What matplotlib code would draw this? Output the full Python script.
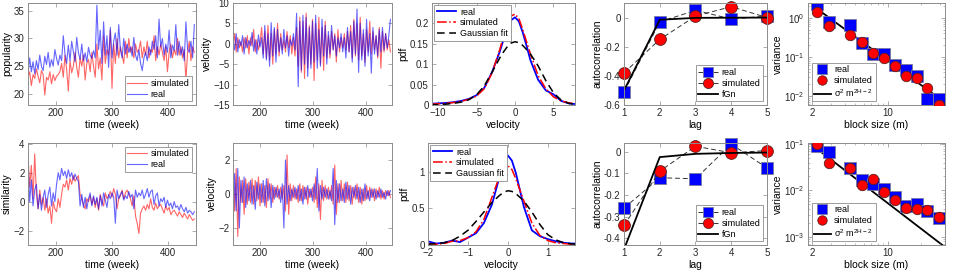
import numpy as np
import matplotlib
matplotlib.use('Agg')
import matplotlib.pyplot as plt

plt.rcParams['font.family'] = ['Liberation Sans', 'DejaVu Sans']
plt.rcParams['font.size'] = 7
plt.rcParams['mathtext.fontset'] = 'custom'
plt.rcParams['mathtext.rm'] = 'Liberation Sans'
plt.rcParams['mathtext.it'] = 'Liberation Sans:italic'
plt.rcParams['mathtext.default'] = 'regular'

# ---------------- data ----------------
weeks = np.linspace(150, 447, 100)

pop_real = [23.5, 26.5, 24.0, 25.8, 23.6, 26.0, 24.4, 27.0, 25.0, 24.2,
            26.8, 25.3, 27.5, 24.8, 26.2, 25.0, 28.0, 26.4, 25.2, 27.0,
            26.0, 30.5, 27.2, 25.5, 28.8, 26.0, 29.5, 27.6, 25.8, 30.2,
            27.5, 26.2, 29.0, 26.0, 27.4, 25.8, 28.4, 27.0, 26.4, 27.8,
            26.5, 36.0, 28.0, 31.5, 25.5, 33.0, 27.0, 30.5, 24.8, 32.0,
            26.5, 29.5, 31.0, 27.0, 32.5, 28.0, 26.5, 30.0, 27.2, 29.0,
            27.5, 28.5, 26.8, 30.2, 27.0, 26.0, 28.0, 25.5, 24.2, 26.5,
            27.5, 26.0, 28.5, 27.0, 29.5, 28.0, 30.5, 26.5, 33.5, 28.5,
            30.0, 27.0, 29.0, 27.5, 31.5, 26.5, 28.8, 27.8, 32.5, 27.0,
            29.5, 27.0, 28.5, 26.0, 33.0, 28.0, 27.5, 29.5, 26.5, 32.5]
pop_sim = [23.0, 24.0, 21.5, 23.5, 22.8, 24.5, 23.2, 22.0, 24.2, 23.5,
           19.8, 23.0, 22.5, 24.0, 21.8, 23.5, 22.4, 23.2, 23.5, 24.0,
           25.5, 23.0, 27.0, 24.5, 20.5, 26.0, 23.8, 25.0, 27.5, 24.8,
           23.0, 26.5, 25.0, 27.0, 22.5, 25.5, 26.2, 24.0, 27.5, 25.0,
           23.0, 29.0, 24.5, 26.5, 22.5, 30.5, 25.5, 28.0, 27.0, 31.5,
           21.0, 29.0, 25.5, 30.0, 26.5, 28.5, 27.0, 25.5, 29.5, 26.5,
           30.0, 27.5, 28.5, 26.5, 29.0, 27.5, 28.0, 29.5, 26.5, 28.5,
           27.0, 29.5, 26.5, 28.0, 27.5, 30.5, 26.0, 28.5, 27.0, 29.0,
           27.5, 26.0, 28.5, 24.0, 27.5, 29.0, 26.5, 28.0, 27.0, 30.0,
           27.0, 28.5, 26.5, 28.0, 22.5, 27.5, 29.5, 26.0, 28.5, 27.5]

vel_real = [0.5, -1.5, 2.5, -2.0, 1.0, -0.5, 2.0, -2.5, 1.5, -1.0,
            0.8, -0.5, 2.8, -1.8, 1.0, -2.5, 2.2, -0.8, 1.5, -3.5,
            4.5, -4.0, 2.5, -5.5, 5.2, -3.0, 4.0, -4.5, 3.5, -2.0,
            1.5, -2.5, 3.5, -1.0, 2.0, -3.0, 1.0, -0.5, 2.5, -1.5,
            7.5, -10.5, 5.5, -6.5, 7.0, -5.0, 6.5, -8.0, 4.0, -6.0,
            5.5, -4.5, 7.0, -6.0, 3.5, -5.5, 6.0, -3.0, 4.5, -5.0,
            3.0, -2.5, 4.5, -1.5, 2.0, -3.0, 1.5, -1.0, 2.5, -2.0,
            1.5, -3.5, 4.0, -2.0, 3.0, -4.5, 5.5, -2.5, 8.5, -7.0,
            5.0, -4.0, 3.5, -5.5, 6.0, -3.0, 2.5, -7.2, 4.0, -2.5,
            2.0, -3.0, 3.5, -2.0, 4.0, -1.5, 2.5, -1.0, 2.0, 6.0]
vel_sim = [-0.5, 2.5, -2.0, 1.5, -1.0, 0.5, -2.0, 1.5, -1.0, 2.0,
           -2.5, 1.5, -0.5, 3.5, -2.0, 1.0, -1.5, 0.5, 4.0, -2.5,
           3.0, -3.5, 4.5, -4.0, 2.5, -5.0, 3.5, -2.5, 5.0, -3.0,
           2.5, -1.5, 1.0, -2.0, 3.0, -1.0, 2.0, -2.5, 1.5, -3.0,
           4.0, -5.5, 6.5, -7.0, 5.5, -8.5, 7.5, -6.0, 4.5, -5.0,
           6.0, -9.0, 5.0, -4.0, 6.5, -5.0, 4.0, -6.5, 5.5, -3.5,
           2.0, -3.5, 3.0, -1.5, 2.5, -4.5, 3.5, -2.0, 1.5, -1.0,
           2.5, -1.5, 3.0, -2.0, 4.5, -3.5, 6.0, -3.0, 5.0, -4.0,
           6.5, -3.0, 2.5, -4.5, 3.5, -2.0, 5.5, -2.5, 3.0, -1.5,
           2.0, -3.5, 4.0, -6.0, 3.0, -2.0, 2.5, -1.5, 1.0, -2.0]

simi_real = [3.0, 0.0, 1.5, -0.3, 0.8, 1.2, -0.5, 0.5, -0.6, 0.3,
             0.8, -0.4, 0.5, 1.0, -0.3, 0.6, 0.0, 1.2, 2.0, 1.5,
             2.3, 1.8, 2.1, 1.6, 2.2, 1.7, 2.0, 1.5, 1.9, 1.6,
             1.4, -0.3, 0.5, -0.4, 0.3, -0.5, 0.2, 0.6, -0.3, 0.4,
             -0.2, 0.3, -0.5, 0.4, -0.3, 0.6, 0.1, -0.4, 0.5, 0.2,
             0.6, 0.3, -1.5, 0.8, 0.2, 0.5, 0.7, 0.1, 0.4, 0.2,
             0.7, 0.3, 0.5, -0.5, 0.8, 0.3, 0.6, 0.4, 0.8, 0.2,
             0.5, 0.9, 0.3, 0.7, 0.8, -0.2, 0.4, 0.6, -0.3, 0.2,
             0.0, 0.3, -0.4, 0.1, -0.3, -0.1, -0.5, 0.0, -0.4, -0.3,
             -0.6, -0.2, -0.5, -0.7, -0.4, -0.8, -0.6, -0.7, -0.9, -0.7]
simi_sim = [3.2, 1.0, 2.5, 0.2, 3.3, 0.5, -0.5, 0.8, -0.2, 0.3,
            -0.6, 0.2, -0.8, -0.3, -1.5, 0.0, -0.5, -0.7, 0.2, -0.4,
            0.5, 1.2, 1.0, 1.5, 0.8, 1.6, 1.2, 1.8, 1.4, 1.6,
            1.8, 0.5, 0.2, -0.2, -0.5, 0.2, 0.0, 0.4, -0.2, 0.3,
            -0.4, 0.2, -0.6, 0.5, 0.0, -0.3, 0.6, 0.2, 0.4, 0.7,
            0.3, 0.9, 0.5, -0.5, 0.2, 0.4, 0.8, 0.2, 0.6, 0.8,
            0.5, 0.2, -0.3, 0.4, -1.0, -1.5, -2.2, -0.8, -0.5, -0.3,
            -0.6, -0.2, -0.5, 0.2, -0.4, -0.6, -0.1, -0.5, -0.3, -0.2,
            -0.5, -0.8, -0.3, -0.6, -0.4, -0.9, -0.7, -0.6, -0.8, -1.0,
            -0.7, -0.9, -1.1, -0.8, -1.0, -1.2, -0.9, -1.1, -1.3, -1.2]

vel2_real = [-2.0, 1.2, -1.0, 1.5, -2.0, 0.8, -0.5, 1.0, -0.8, 0.6,
             -0.4, 0.8, -0.6, 0.5, -0.9, 0.7, -0.3, 0.6, -0.5, 0.8,
             -0.7, 0.9, -0.4, 0.6, -0.8, 0.5, -0.3, 0.4, -0.2, 0.3,
             -0.5, 0.6, -2.0, 2.0, -0.6, 0.5, -0.4, 0.3, -0.2, 0.4,
             -0.3, 0.5, -0.4, 0.3, -0.6, 0.4, -0.3, 0.5, -0.2, 0.3,
             -0.4, 0.6, -0.3, 1.5, -1.0, 0.5, -0.3, 0.4, -0.2, 0.3,
             -0.3, 0.2, -0.4, 1.5, -1.8, 0.8, -0.5, 0.6, -0.4, 0.3,
             -0.5, 0.7, -0.3, 0.5, -0.6, 0.4, -0.2, 0.5, -0.3, 0.4,
             -0.5, 0.3, -0.4, 0.6, -0.3, 0.2, -0.4, 0.3, -0.2, 0.3,
             -0.3, 0.2, -0.2, 0.3, -0.2, 0.1, -0.3, 0.2, -0.1, 0.2]
vel2_sim = [1.2, -1.0, 1.5, -2.5, 1.0, -0.5, 0.8, -1.2, 0.9, -0.6,
            0.7, -0.5, 0.9, -0.6, 0.8, -0.4, 1.0, -0.7, 0.6, -0.5,
            0.5, -0.8, 0.9, -0.3, 0.6, -0.5, 0.4, -0.2, 0.5, -0.3,
            0.4, -0.3, 0.5, -1.0, 2.3, -1.2, 0.6, -0.4, 0.5, -0.3,
            0.3, -0.5, 0.6, -0.4, 0.5, -0.3, 0.4, -0.6, 0.3, -0.2,
            0.4, -0.5, 1.0, -0.8, 0.6, -1.5, 0.8, -0.4, 0.5, -0.3,
            0.4, -0.3, 0.5, -0.6, 1.7, -1.2, 0.6, -0.5, 0.8, -0.4,
            0.6, -0.5, 0.7, -0.4, 0.5, -0.6, 0.4, -0.3, 0.6, -0.5,
            0.4, -0.6, 0.3, -0.4, 0.5, -0.3, 0.4, -0.2, 0.3, -0.4,
            0.3, -0.2, 0.4, -0.3, 0.2, -0.3, 0.2, -0.1, 0.2, -0.2]

# velocity pdfs (top: popularity, bottom: similarity)
pdf1_x = [-11, -10, -9, -8, -7, -6, -5, -4, -3, -2, -1.5, -1, -0.5, 0, 0.5, 1, 1.5, 2, 3, 4, 5, 6, 7, 8]
pdf1_real = [0.003, 0.004, 0.005, 0.007, 0.010, 0.015, 0.024, 0.042, 0.080, 0.130, 0.160, 0.188, 0.208, 0.215,
             0.205, 0.178, 0.145, 0.110, 0.062, 0.036, 0.026, 0.010, 0.004, 0.002]
pdf1_sim = [0.002, 0.003, 0.004, 0.006, 0.009, 0.014, 0.022, 0.040, 0.078, 0.135, 0.168, 0.196, 0.218, 0.223,
            0.212, 0.185, 0.155, 0.125, 0.072, 0.040, 0.020, 0.010, 0.005, 0.003]
pdf1_gauss = [0.000, 0.001, 0.002, 0.004, 0.007, 0.013, 0.025, 0.047, 0.080, 0.115, 0.130, 0.143, 0.152, 0.155,
              0.153, 0.146, 0.136, 0.125, 0.096, 0.060, 0.030, 0.012, 0.004, 0.001]

pdf2_x = [-2.0, -1.8, -1.6, -1.4, -1.2, -1.0, -0.8, -0.6, -0.4, -0.2, -0.1, 0.0, 0.1, 0.2, 0.4, 0.6, 0.8, 1.0, 1.2, 1.4, 1.6, 1.7]
pdf2_real = [0.05, 0.02, 0.03, 0.06, 0.04, 0.10, 0.16, 0.30, 0.55, 0.95, 1.12, 1.22, 1.15, 0.98, 0.52, 0.20,
             0.12, 0.08, 0.05, 0.03, 0.02, 0.02]
pdf2_sim = [0.02, 0.01, 0.02, 0.05, 0.06, 0.10, 0.18, 0.35, 0.65, 0.95, 1.04, 1.08, 1.03, 0.90, 0.60, 0.30,
            0.13, 0.06, 0.03, 0.02, 0.01, 0.01]
pdf2_gauss = [0.01, 0.02, 0.03, 0.06, 0.12, 0.20, 0.32, 0.45, 0.58, 0.68, 0.72, 0.74, 0.73, 0.70, 0.60, 0.45,
              0.28, 0.14, 0.07, 0.03, 0.015, 0.01]

lags = [1, 2, 3, 4, 5]
acf1_real = [-0.51, -0.03, 0.05, -0.01, 0.01]
acf1_sim = [-0.38, -0.15, 0.01, 0.075, 0.0]
acf1_fgn = [-0.50, -0.015, -0.002, -0.001, 0.0]
acf2_real = [-0.26, -0.12, -0.125, 0.035, -0.075]
acf2_sim = [-0.34, -0.09, 0.025, -0.005, 0.005]
acf2_fgn = [-0.45, -0.025, -0.01, -0.006, -0.004]

block = [2.2, 2.85, 4.45, 5.7, 7.25, 9.15, 11.5, 14.6, 18.4, 23.0, 29.8]
var1_real = [2.3, 0.78, 0.65, 0.22, 0.115, 0.12, 0.062, 0.045, 0.033, 0.0085, 0.0085]
var1_sim = [1.45, 0.62, 0.36, 0.24, 0.125, 0.092, 0.057, 0.033, 0.028, 0.016, 0.0058]
var2_real = [0.092, 0.069, 0.030, 0.0170, 0.0138, 0.0108, 0.0073, 0.0045, 0.0051, 0.0036, 0.0025]
var2_sim = [0.103, 0.040, 0.030, 0.0133, 0.018, 0.0092, 0.0062, 0.0042, 0.0039, 0.0038, 0.0026]
fit_m = [2.0, 34.0]
fit1_v = [2.1, 0.0065]
fit2_v = [0.095, 0.00058]

# ---------------- figure ----------------
W, H = 954, 277
fig = plt.figure(figsize=(W / 100, H / 100), dpi=100)
LAB = 7.5


def box(l, t, r, b):
    return [l / W, 1 - b / H, (r - l) / W, (b - t) / H]


def style(ax):
    for s in ax.spines.values():
        s.set_color('#8c8c8c')
        s.set_linewidth(0.7)
    ax.tick_params(direction='in', top=True, right=True, length=3, width=0.5,
                   color='#8c8c8c', labelcolor='#262626', labelsize=7, pad=2.5)
    ax.tick_params(which='minor', direction='in', top=True, right=True, length=1.5, width=0.4,
                   color='#8c8c8c')


def leg(ax, loc, **kw):
    opts = dict(fontsize=6.5, fancybox=False, framealpha=1, handlelength=2.2,
                handletextpad=0.4, borderpad=0.3, labelspacing=0.2, borderaxespad=0.4)
    opts.update(kw)
    lg = ax.legend(loc=loc, **opts)
    lg.get_frame().set_edgecolor('#8c8c8c')
    lg.get_frame().set_linewidth(0.6)
    return lg


rows = [(3, 105), (143, 245)]
col1 = (28, 196)
col2 = (233, 392)
col3 = [(432, 575), (428, 575)]
col4 = (624, 767)
col5 = (808, 945)

ts_pop = [(pop_real, pop_sim, 'popularity', (18, 36.4), [20, 25, 30, 35], 'lower right'),
          (simi_real, simi_sim, 'similarity', (-3, 4.05), [-2, 0, 2, 4], 'upper right')]
ts_vel = [(vel_real, vel_sim, (-15, 10), [-15, -10, -5, 0, 5, 10]),
          (vel2_real, vel2_sim, (-3, 3), [-2, 0, 2])]
pdfs = [(pdf1_x, pdf1_real, pdf1_sim, pdf1_gauss, (-10.8, 7.8), (0, 0.25), [-10, -5, 0, 5],
         [0, 0.05, 0.1, 0.15, 0.2]),
        (pdf2_x, pdf2_real, pdf2_sim, pdf2_gauss, (-2.0, 1.68), (0, 1.39), [-2, -1, 0, 1], [0, 0.5, 1])]
acfs = [(acf1_real, acf1_sim, acf1_fgn, (-0.6, 0.1), [-0.6, -0.4, -0.2, 0]),
        (acf2_real, acf2_sim, acf2_fgn, (-0.43, 0.04), [-0.4, -0.3, -0.2, -0.1, 0])]
vars_ = [(var1_real, var1_sim, fit1_v, (0.0058, 2.4)),
         (var2_real, var2_sim, fit2_v, (0.00066, 0.106))]

for r, (top, bot) in enumerate(rows):
    # time series of the measure
    real, sim, name, ylim, yt, lloc = ts_pop[r]
    ax = fig.add_axes(box(col1[0], top, col1[1], bot))
    ax.plot(weeks, sim, color='red', lw=0.8, alpha=0.6, label='simulated')
    ax.plot(weeks, real, color='blue', lw=0.8, alpha=0.6, label='real')
    ax.set_xlim(150, 450)
    ax.set_ylim(*ylim)
    ax.set_xticks([200, 300, 400])
    ax.set_yticks(yt)
    ax.set_xlabel('time (week)', fontsize=LAB, labelpad=1)
    ax.set_ylabel(name, fontsize=LAB, labelpad=1)
    style(ax)
    leg(ax, lloc)

    # velocity
    real, sim, ylim, yt = ts_vel[r]
    ax = fig.add_axes(box(col2[0], top, col2[1], bot))
    ax.plot(weeks, sim, color='red', lw=0.8, alpha=0.6)
    ax.plot(weeks, real, color='blue', lw=0.8, alpha=0.6)
    ax.set_xlim(150, 450)
    ax.set_ylim(*ylim)
    ax.set_xticks([200, 300, 400])
    ax.set_yticks(yt)
    ax.set_xlabel('time (week)', fontsize=LAB, labelpad=1)
    ax.set_ylabel('velocity', fontsize=LAB, labelpad=1)
    style(ax)

    # pdf of velocity
    px, pr, ps, pg, xl, yl, xt, yt = pdfs[r]
    ax = fig.add_axes(box(col3[r][0], top, col3[r][1], bot))
    ax.plot(px, pr, color='blue', lw=1.3, label='real')
    ax.plot(px, ps, color='red', lw=1.1, ls='-.', label='simulated')
    ax.plot(px, pg, color='black', lw=1.1, ls=(0, (5, 3)), label='Gaussian fit')
    ax.set_xlim(*xl)
    ax.set_ylim(*yl)
    ax.set_xticks(xt)
    ax.set_yticks(yt)
    ax.set_yticklabels([f'{v:g}' for v in yt])
    ax.set_xlabel('velocity', fontsize=LAB, labelpad=1)
    ax.set_ylabel('pdf', fontsize=LAB, labelpad=1)
    style(ax)
    leg(ax, 'upper left', borderaxespad=0.2)

    # autocorrelation
    ar, asim, af, yl, yt = acfs[r]
    ax = fig.add_axes(box(col4[0], top, col4[1], bot))
    ax.plot(lags, ar, color='#333333', lw=0.7, ls=(0, (5, 3)), marker='s', ms=9,
            mfc='blue', mec='#7a7aa0', mew=0.6, label='real', clip_on=False)
    ax.plot(lags, asim, color='#333333', lw=0.7, ls=(0, (5, 3)), marker='o', ms=8.5,
            mfc='red', mec='#5a2020', mew=0.6, label='simulated', clip_on=False)
    ax.plot(lags, af, color='black', lw=1.3, label='fGn')
    ax.set_xlim(1, 5)
    ax.set_ylim(*yl)
    ax.set_xticks(lags)
    ax.set_yticks(yt)
    ax.set_yticklabels([f'{v:g}' for v in yt])
    ax.set_xlabel('lag', fontsize=LAB, labelpad=1)
    ax.set_ylabel('autocorrelation', fontsize=LAB, labelpad=1)
    style(ax)
    leg(ax, 'lower right', markerscale=0.85)

    # variance vs block size
    vr, vs, fv, yl = vars_[r]
    ax = fig.add_axes(box(col5[0], top, col5[1], bot))
    ax.plot(fit_m, fv, color='black', lw=1.3, zorder=1)
    ax.plot(block, vr, ls='none', marker='s', ms=8, mfc='blue', mec='#7a7aa0', mew=0.6,
            label='real', zorder=2)
    ax.plot(block, vs, ls='none', marker='o', ms=7.5, mfc='red', mec='#5a2020', mew=0.6,
            label='simulated', zorder=3)
    ax.plot([], [], color='black', lw=1.3, label=r'$\sigma^2$ m$^{2H-2}$')
    ax.set_xscale('log')
    ax.set_yscale('log')
    ax.set_xlim(1.83, 33.5)
    ax.set_ylim(*yl)
    ax.set_xticks([2, 10])
    ax.set_xticklabels(['2', '10'])
    ax.xaxis.set_minor_formatter(plt.NullFormatter())
    ax.set_xlabel('block size (m)', fontsize=LAB, labelpad=1)
    ax.set_ylabel('variance', fontsize=LAB, labelpad=1)
    style(ax)
    leg(ax, 'lower left', markerscale=0.9, handlelength=1.8)

fig.savefig('out.png', dpi=100)
